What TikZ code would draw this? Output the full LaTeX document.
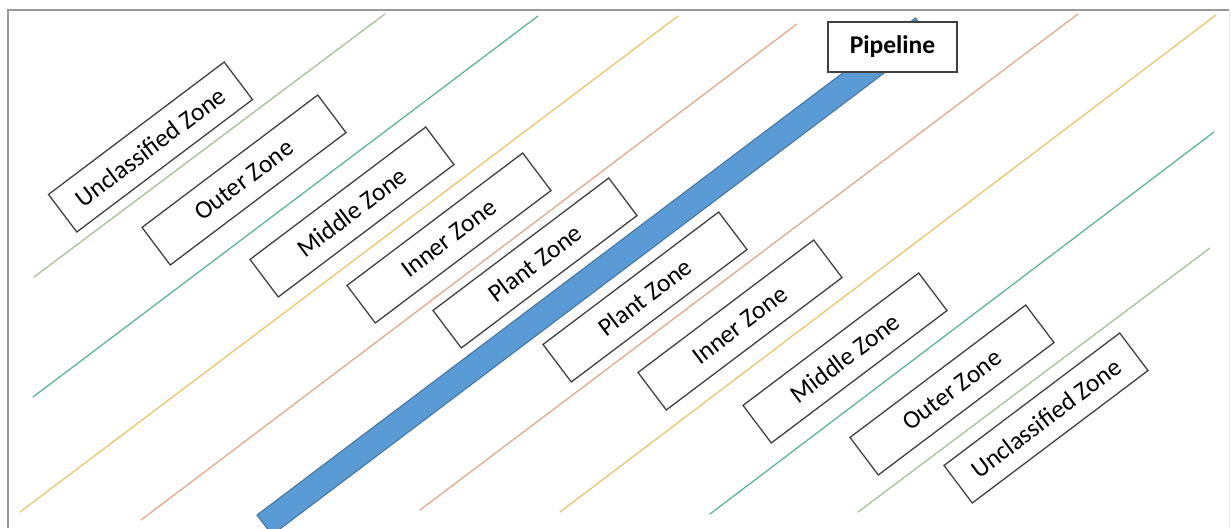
\documentclass[tikz,border=0pt]{standalone}
\usepackage{fontspec}
\setmainfont{Carlito}
\usepackage{tikz}

\definecolor{sage}{RGB}{168,192,152}
\definecolor{teal}{RGB}{96,180,144}
\definecolor{straw}{RGB}{228,200,112}
\definecolor{salmon}{RGB}{222,170,146}
\definecolor{pipefill}{RGB}{91,155,213}
\definecolor{pipeedge}{RGB}{65,113,156}
\definecolor{boxline}{RGB}{64,64,64}

\begin{document}
\begin{tikzpicture}[x=1pt,y=-1pt,
  zone/.style={draw=boxline, line width=1.3pt, fill=white, rotate=37,
    minimum width=220pt, minimum height=47pt, inner sep=0pt,
    font=\fontsize{25.5}{30}\selectfont},
  border/.style={line width=1.3pt, line cap=round}]
\useasboundingbox (0,0) rectangle (1231,528);
\clip (0,0) rectangle (1231,528);
% frame
\draw[gray!80, line width=1.2pt] (8,528) -- (8,10) -- (1229,10);
\draw[gray!15, line width=1pt] (1229,10) -- (1229,528);
% zone boundaries, left of the pipeline
\draw[border, sage] (34,277) -- (385,14);
\draw[border, teal] (33,397) -- (538,16);
\draw[border, straw] (20,512) -- (678,16);
\draw[border, salmon] (141,520) -- (797,24);
% zone boundaries, right of the pipeline
\draw[border, salmon] (420,510) -- (1078,14);
\draw[border, straw] (560,512) -- (1216,15);
\draw[border, teal] (710,514) -- (1214,132);
\draw[border, sage] (858,512) -- (1210,248);
% the pipeline itself
\node[draw=pipeedge, line width=1pt, fill=pipefill, rotate=37.04,
  minimum width=825pt, minimum height=25pt, inner sep=0pt] (pipe) at (593.75,276.5) {};
% zone labels
\node[zone] (uz1) at (150.5,147) {Unclassified Zone};
\node[zone] (oz1) at (244,180) {Outer Zone};
\node[zone] (mz1) at (352,212) {Middle Zone};
\node[zone] (iz1) at (449,238) {Inner Zone};
\node[zone] (pz1) at (535,263) {Plant Zone};
\node[zone] (pz2) at (645,297) {Plant Zone};
\node[zone] (iz2) at (740,325) {Inner Zone};
\node[zone] (mz2) at (845,358) {Middle Zone};
\node[zone] (oz2) at (952,390) {Outer Zone};
\node[zone] (uz2) at (1046,418) {Unclassified Zone};
\node[draw=boxline, line width=1.3pt, fill=white, minimum width=129pt,
  minimum height=50pt, inner sep=0pt, font=\fontsize{25.5}{30}\selectfont\bfseries]
  (pipeline) at (892.5,47) {Pipeline};
\end{tikzpicture}
\end{document}
